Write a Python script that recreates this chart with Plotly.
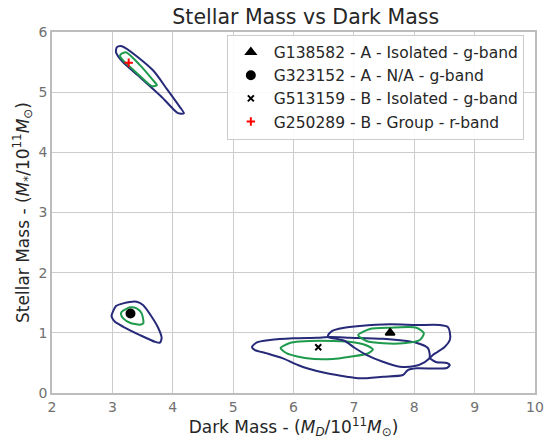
import plotly.graph_objects as go

# Galaxy best-fit points
gal_names = ["G138582 - A - Isolated - g-band", "G323152 - A - N/A - g-band",
             "G513159 - B - Isolated - g-band", "G250289 - B - Group - r-band"]
gal_dark = [7.60, 3.30, 6.41, 3.27]
gal_stellar = [1.00, 1.32, 0.76, 5.49]

# Contour outlines (outer = navy, inner = green)
c250289_out_x = [3.076, 3.159, 3.672, 3.904, 4.119, 4.185, 4.086, 3.821, 3.457, 3.175, 3.060]
c250289_out_y = [5.748, 5.764, 5.365, 5.050, 4.751, 4.651, 4.651, 4.917, 5.249, 5.498, 5.664]
c250289_in_x = [3.142, 3.225, 3.457, 3.672, 3.738, 3.656, 3.407, 3.175, 3.126]
c250289_in_y = [5.631, 5.664, 5.449, 5.199, 5.116, 5.100, 5.316, 5.532, 5.598]

c323152_out_x = [2.988, 3.060, 3.180, 3.402, 3.507, 3.651, 3.760, 3.816, 3.788, 3.705, 3.457, 3.180, 3.043, 2.988]
c323152_out_y = [1.296, 1.445, 1.490, 1.517, 1.462, 1.267, 1.080, 0.914, 0.836, 0.852, 0.963, 1.101, 1.184, 1.267]
c323152_in_x = [3.154, 3.291, 3.402, 3.485, 3.512, 3.457, 3.291, 3.180, 3.142]
c323152_in_y = [1.350, 1.424, 1.407, 1.324, 1.158, 1.135, 1.168, 1.241, 1.312]

c513159_out_x = [5.311, 5.394, 5.609, 5.990, 6.387, 6.603, 6.934, 7.480, 8.043, 8.225, 8.258, 8.258,
                 8.358, 8.540, 8.589, 8.540, 8.043, 7.894, 7.811, 7.480, 7.099, 6.884, 6.553, 6.222,
                 6.073, 5.825, 5.560, 5.361]
c513159_out_y = [0.764, 0.842, 0.880, 0.909, 0.919, 0.930, 0.919, 0.900, 0.831, 0.748, 0.631, 0.581,
                 0.515, 0.498, 0.465, 0.415, 0.410, 0.382, 0.299, 0.271, 0.244, 0.271, 0.327, 0.410,
                 0.465, 0.576, 0.659, 0.714]
c513159_in_x = [5.786, 5.940, 6.106, 6.652, 7.017, 7.232, 7.315, 7.232, 6.934, 6.652, 6.222, 5.891]
c513159_in_y = [0.748, 0.831, 0.855, 0.864, 0.839, 0.781, 0.723, 0.656, 0.603, 0.565, 0.576, 0.659]

c138582_out_x = [6.570, 6.636, 6.818, 7.099, 7.596, 8.043, 8.424, 8.556, 8.589, 8.589, 8.507, 8.391,
                 8.308, 8.258, 8.175, 8.010, 7.762, 7.480, 7.215, 7.017, 6.851, 6.685, 6.586]
c138582_out_y = [0.955, 1.030, 1.080, 1.113, 1.141, 1.130, 1.130, 1.096, 1.013, 0.880, 0.769, 0.686,
                 0.631, 0.581, 0.515, 0.449, 0.437, 0.520, 0.631, 0.748, 0.864, 0.905, 0.922]
c138582_in_x = [7.071, 7.265, 7.596, 8.038, 8.159, 8.093, 7.816, 7.485, 7.210]
c138582_in_y = [0.963, 1.063, 1.085, 1.085, 0.992, 0.880, 0.826, 0.826, 0.864]

x_ticks = [2, 3, 4, 5, 6, 7, 8, 9, 10]
y_ticks = [0, 1, 2, 3, 4, 5, 6]

NAVY = "#262a78"
GREEN = "#1d9a4c"

fig = go.Figure()

def closed(a):
    return list(a) + [a[0]]

contours = [
    (c250289_out_x, c250289_out_y, NAVY), (c250289_in_x, c250289_in_y, GREEN),
    (c323152_out_x, c323152_out_y, NAVY), (c323152_in_x, c323152_in_y, GREEN),
    (c513159_out_x, c513159_out_y, NAVY), (c513159_in_x, c513159_in_y, GREEN),
    (c138582_out_x, c138582_out_y, NAVY), (c138582_in_x, c138582_in_y, GREEN),
]
for cx, cy, col in contours:
    fig.add_trace(go.Scatter(x=closed(cx), y=closed(cy), mode="lines",
                             line=dict(color=col, width=2, shape="spline", smoothing=0.7),
                             showlegend=False, hoverinfo="skip"))

symbols = ["triangle-up", "circle", "x-thin", "cross-thin"]
colors = ["black", "black", "black", "red"]
sizes = [8, 8, 6, 6]
for i in range(4):
    fig.add_trace(go.Scatter(x=[gal_dark[i]], y=[gal_stellar[i]], mode="markers", name=gal_names[i],
                             marker=dict(symbol=symbols[i], color=colors[i], size=sizes[i],
                                         line=dict(color=colors[i], width=2))))

axis_common = dict(showgrid=True, gridcolor="#cccccc", gridwidth=1, showline=True, mirror=True,
                   linecolor="#bdbdbd", linewidth=1.5, zeroline=False, ticks="", automargin=False,
                   tickfont=dict(family="DejaVu Sans", size=14, color="#707070"))

fig.update_layout(
    width=544, height=441,
    margin=dict(l=52, r=9, t=32, b=48),
    paper_bgcolor="white", plot_bgcolor="white",
    title=dict(text="Stellar Mass vs Dark Mass", x=0.562, xanchor="center", y=0.962, yanchor="middle",
               font=dict(family="DejaVu Sans", size=20.5, color="#262626")),
    xaxis=dict(range=[2, 10], tickvals=x_ticks, **axis_common,
               title=dict(text="Dark Mass - (<i>M</i><sub><i>D</i></sub>/10<sup>11</sup><i>M</i><sub>⊙</sub>)",
                          font=dict(family="DejaVu Sans", size=17, color="#262626"), standoff=3)),
    yaxis=dict(range=[0, 6], tickvals=y_ticks, **axis_common,
               title=dict(text="Stellar Mass - (<i>M</i><sub>*</sub>/10<sup>11</sup><i>M</i><sub>⊙</sub>)",
                          font=dict(family="DejaVu Sans", size=17, color="#262626"), standoff=5)),
    legend=dict(x=0.362, xanchor="left", y=0.993, yanchor="top", bgcolor="rgba(255,255,255,0.9)",
                bordercolor="#cccccc", borderwidth=1, itemwidth=36, tracegroupgap=0,
                font=dict(family="DejaVu Sans", size=15.5, color="#262626")),
)

fig.write_html("out.html")
